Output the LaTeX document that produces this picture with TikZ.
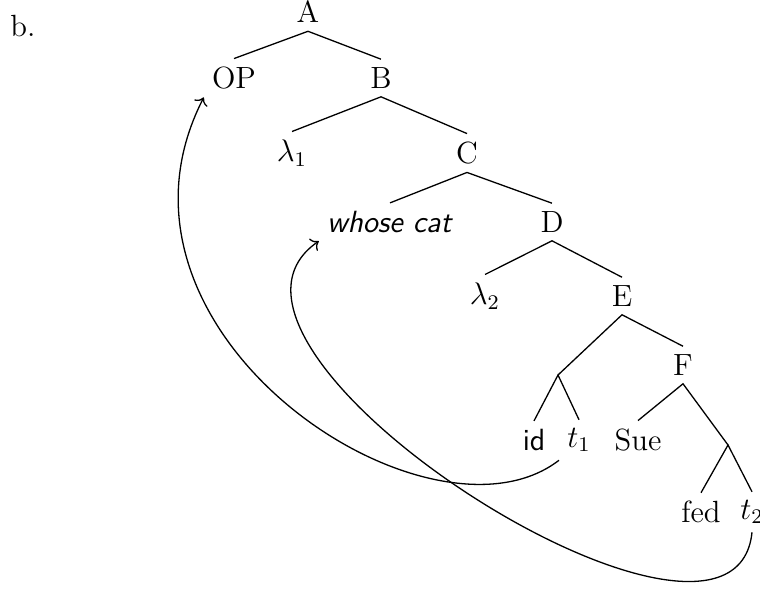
\documentclass[tikz,border=0pt]{standalone}
\usepackage{amsmath,amssymb}
\usepackage{tikz}
\usetikzlibrary{positioning,calc,arrows.meta}

\tikzset{
  lbl/.style={inner sep=3pt},
  branch/.style={line width=0.5pt},
  move/.style={->, line width=0.5pt}
}

\begin{document}
\begin{tikzpicture}[x=0.3846pt, y=-0.3846pt, font=\fontsize{11.8}{14}\selectfont]
        \useasboundingbox (0,0) rectangle (760,594);
        \node at (23,26) {b.};

        % Tree nodes
        \node[lbl] (A) at (308,12) {A};
        \node[lbl] (OP) at (234,78) {OP};
        \node[lbl] (B) at (381,78) {B};
        \node[lbl] (lam1) at (292,153) {$\lambda_1$};
        \node[lbl] (C) at (467,153) {C};
        \node[lbl] (wc) at (390,222) {\textsf{\itshape whose cat}};
        \node[lbl] (D) at (552,222) {D};
        \node[lbl] (lam2) at (485,296) {$\lambda_2$};
        \node[lbl] (E) at (622,296) {E};
        \coordinate (n1) at (558,375);
        \node[lbl] (F) at (683,365) {F};
        \node[lbl] (id) at (534,440) {\textsf{id}};
        \node[lbl] (t1) at (579,440) {$t_1$};
        \node[lbl] (Sue) at (638,440) {Sue};
        \coordinate (n2) at (728,445);
        \node[lbl] (fed) at (701,512) {fed};
        \node[lbl] (t2) at (752,512) {$t_2$};

        % Branches
        \draw[branch] (OP.north) -- (A.south) -- (B.north);
        \draw[branch] (lam1.north) -- (B.south) -- (C.north);
        \draw[branch] (wc.north) -- (C.south) -- (D.north);
        \draw[branch] (lam2.north) -- (D.south) -- (E.north);
        \draw[branch] (n1) -- (E.south) -- (F.north);
        \draw[branch] (id.north) -- (n1) -- (t1.north);
        \draw[branch] (Sue.north) -- (F.south) -- (n2);
        \draw[branch] (fed.north) -- (n2) -- (t2.north);

        % Movement arrows
        \draw[move] (t1.south west) .. controls +(-130,100) and +(-121,235) .. (OP.south west);
        \draw[move] (t2.south) .. controls +(-18,180) and +(-157,108) .. (wc.south west);
    \end{tikzpicture}
\end{document}
